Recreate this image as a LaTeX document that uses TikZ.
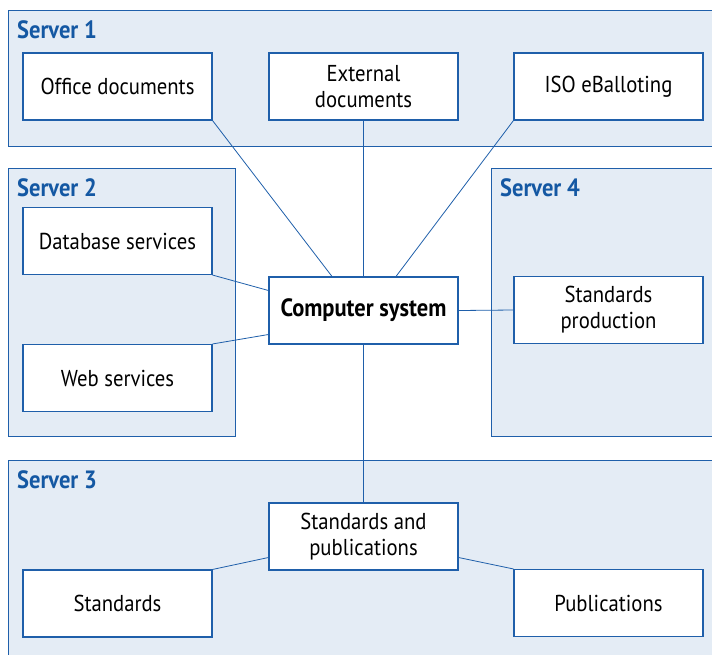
\documentclass[tikz,border=0pt]{standalone}
\usepackage{fontspec}
\setmainfont{PT Sans}[FakeStretch=0.9]
\definecolor{rim}{HTML}{1F5FAA}
\definecolor{pane}{HTML}{E4ECF5}
\definecolor{heading}{HTML}{1458A3}
\begin{document}
\begin{tikzpicture}[x=1pt,y=-1pt,
  server/.style={draw=rim,fill=pane,line width=1pt},
  unit/.style={draw=rim,fill=white,line width=1.1pt,minimum width=189pt,minimum height=67pt,
    inner sep=0pt,align=center,font=\fontsize{23}{26}\selectfont},
  title/.style={anchor=north west,inner sep=0pt,text=heading,font=\fontsize{25}{28}\selectfont\bfseries},
  link/.style={draw=rim,line width=0.8pt}]
\useasboundingbox (0,0) rectangle (712,654);
% server areas
\draw[server] (8,10) rectangle (716,146);
\draw[server] (8,168) rectangle (235,436);
\draw[server] (491,168) rectangle (716,436);
\draw[server] (8,460) rectangle (716,660);
\node[title] (s1) at (17,20) {Server 1};
\node[title] (s2) at (17,178) {Server 2};
\node[title] (s4) at (500,178) {Server 4};
\node[title] (s3) at (17,470) {Server 3};
% components
\node[unit] (office) at (117.5,86.5) {Office documents};
\node[unit] (external) at (363.5,86.5) {External\\documents};
\node[unit] (iso) at (608.5,86.5) {ISO eBalloting};
\node[unit] (db) at (117.5,241) {Database services};
\node[unit] (web) at (117.5,378) {Web services};
\node[unit,font=\fontsize{25}{28}\selectfont\bfseries] (core) at (363.5,310.5) {Computer system};
\node[unit] (prod) at (608.5,310) {Standards\\production};
\node[unit] (stdpub) at (363.5,536.5) {Standards and\\publications};
\node[unit] (std) at (117.5,603.5) {Standards};
\node[unit] (pub) at (608.5,603) {Publications};
% connectors
\draw[link] (office.south east) -- ([xshift=-31.5pt]core.north);
\draw[link] (external.south) -- (core.north);
\draw[link] (iso.south west) -- ([xshift=32.5pt]core.north);
\draw[link] (db.south east) -- ([yshift=20pt]core.west);
\draw[link] (web.north east) -- ([yshift=-24pt]core.west);
\draw[link] (core.east) -- (prod.west);
\draw[link] (core.south) -- (stdpub.north);
\draw[link] (std.north east) -- ([yshift=-21pt]stdpub.west);
\draw[link] (pub.north west) -- ([yshift=-21pt]stdpub.east);
\end{tikzpicture}
\end{document}
